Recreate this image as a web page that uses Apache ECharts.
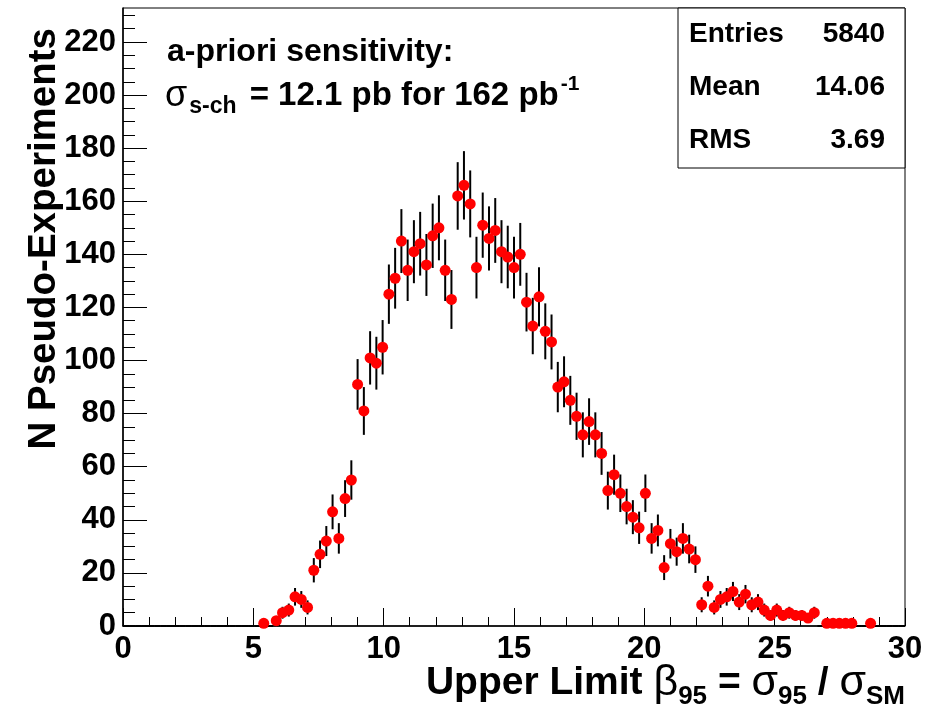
<!DOCTYPE html>
<html><head><meta charset="utf-8">
<script src="https://cdn.jsdelivr.net/npm/echarts@6/dist/echarts.min.js"></script>
<style>html,body{margin:0;padding:0;background:#fff}#c{width:934px;height:707px}</style>
</head><body><div id="c"></div>
<script>
// Histogram: 125 bins from 0 to 30
const xMin = 0, xMax = 30, nBins = 125;
const counts = [
  0,0,0,0,0,0,0,0,0,0, 0,0,0,0,0,0,0,0,0,0, 0,0,
  1,0,2,5,6,11,10,7,21,27,32,43,33,48,55,
  91,81,101,99,105,125,131,145,134,141,144,136,147,150,134,123,
  162,166,159,135,151,146,149,141,139,135,140,122,113,124,111,107,
  90,92,85,79,72,77,72,65,51,57,50,45,41,37,50,33,36,22,31,28,33,29,25,
  8,15,7,10,11,13,9,12,8,9,6,4,6,4,5,4,4,3,5,0,1,1,1,1,1,0,0,1,
  0,0,0,0,0
];
const yMax = 232.8;
const yMajorTicks = [0,20,40,60,80,100,120,140,160,180,200,220];
const yMinorTicks = [5,10,15,25,30,35,45,50,55,65,70,75,85,90,95,105,110,115,125,130,135,145,150,155,165,170,175,185,190,195,205,210,215,225,230];
const xTickInterval = 5;
const statsLabels = ['Entries', 'Mean', 'RMS'];
const statsValues = ['5840', '14.06', '3.69'];

const binW = (xMax - xMin) / nBins;
const binData = counts.map((n, i) => [xMin + (i + 0.5) * binW, n, Math.sqrt(n)]);
const pointData = binData.filter(d => d[1] > 0).map(d => [d[0], d[1]]);

const F = 'Liberation Sans, Arial, sans-serif';
const chart = echarts.init(document.getElementById('c'), null, {renderer: 'canvas'});

const statsGraphics = [];
statsGraphics.push({type: 'rect', shape: {x: 678, y: 8, width: 227, height: 160},
  style: {fill: '#fff', stroke: '#000', lineWidth: 1}, z: 100});
statsLabels.forEach((lab, i) => {
  const cy = 34 + i * 53;
  statsGraphics.push({type: 'text', x: 689, y: cy, z: 101,
    style: {text: lab, font: 'bold 28px ' + F, fill: '#000', textAlign: 'left', textVerticalAlign: 'middle'}});
  statsGraphics.push({type: 'text', x: 885, y: cy, z: 101,
    style: {text: statsValues[i], font: 'bold 28px ' + F, fill: '#000', textAlign: 'right', textVerticalAlign: 'middle'}});
});

const option = {
  animation: false,
  backgroundColor: '#fff',
  grid: {left: 123, right: 29, top: 8, bottom: 81, show: true, borderColor: '#000', borderWidth: 1, backgroundColor: 'transparent'},
  xAxis: {
    type: 'value', min: xMin, max: xMax, interval: xTickInterval,
    axisLine: {show: true, onZero: false, lineStyle: {color: '#000', width: 1.5}},
    axisTick: {show: true, inside: true, length: 18, lineStyle: {color: '#000', width: 1}},
    minorTick: {show: true, splitNumber: 5, length: 9, lineStyle: {color: '#000', width: 1}},
    axisLabel: {color: '#000', fontFamily: F, fontWeight: 'bold', fontSize: 31, margin: 8},
    splitLine: {show: false}
  },
  yAxis: [{
    type: 'value', min: 0, max: yMax, position: 'left',
    axisLine: {show: true, onZero: false, lineStyle: {color: '#000', width: 1.5}},
    axisTick: {show: true, inside: true, length: 24, customValues: yMajorTicks, lineStyle: {color: '#000', width: 1}},
    axisLabel: {color: '#000', fontFamily: F, fontWeight: 'bold', fontSize: 31, margin: 7, customValues: yMajorTicks},
    splitLine: {show: false}
  }, {
    type: 'value', min: 0, max: yMax, position: 'left',
    axisLine: {show: false},
    axisTick: {show: true, inside: true, length: 12, customValues: yMinorTicks, lineStyle: {color: '#000', width: 1}},
    axisLabel: {show: false},
    splitLine: {show: false}
  }],
  series: [{
    type: 'custom',
    data: binData,
    encode: {x: 0, y: 1},
    z: 2,
    renderItem: function (params, api) {
      const x = api.value(0), y = api.value(1), e = api.value(2);
      let p1, p2;
      if (y > 0) {
        p1 = api.coord([x, y - e]); p2 = api.coord([x, y + e]);
      } else {
        p1 = api.coord([x - binW / 2, 0]); p2 = api.coord([x + binW / 2, 0]);
      }
      return {type: 'line', shape: {x1: p1[0], y1: p1[1], x2: p2[0], y2: p2[1]},
        style: {stroke: '#000', lineWidth: 2}};
    }
  }, {
    type: 'scatter',
    data: pointData,
    symbol: 'circle',
    symbolSize: 11,
    itemStyle: {color: '#ff0000', opacity: 1},
    z: 3
  }],
  graphic: [
    // y axis title
    {type: 'text', x: 44, y: 28, rotation: Math.PI / 2, z: 50,
      style: {text: 'N Pseudo-Experiments', font: 'bold 38.5px ' + F, fill: '#000', textAlign: 'right', textVerticalAlign: 'middle'}},
    // x axis title
    {type: 'text', x: 905, y: 683, z: 50,
      style: {
        text: '{m|Upper Limit }{g|β}{s|95}{m| = }{g|σ}{s|95}{m| / }{g|σ}{s|SM}',
        textAlign: 'right', textVerticalAlign: 'middle', fill: '#000',
        rich: {
          m: {fontFamily: F, fontWeight: 'bold', fontSize: 39, color: '#000'},
          g: {fontFamily: F, fontWeight: 'normal', fontSize: 43, color: '#000'},
          s: {fontFamily: F, fontWeight: 'bold', fontSize: 26, color: '#000', padding: [28, 0, 0, 0]}
        }
      }},
    // annotation
    {type: 'text', x: 167, y: 52, z: 50,
      style: {text: 'a-priori sensitivity:', font: 'bold 32px ' + F, fill: '#000', textAlign: 'left', textVerticalAlign: 'middle'}},
    {type: 'text', x: 165, y: 96, z: 50,
      style: {
        text: '{g|σ}{s|s-ch}{m| = 12.1 pb for 162 pb}{u|-1}',
        textAlign: 'left', textVerticalAlign: 'middle', fill: '#000',
        rich: {
          m: {fontFamily: F, fontWeight: 'bold', fontSize: 33, color: '#000'},
          g: {fontFamily: F, fontWeight: 'normal', fontSize: 36, color: '#000'},
          s: {fontFamily: F, fontWeight: 'bold', fontSize: 23, color: '#000', padding: [22, 4, 0, 2]},
          u: {fontFamily: F, fontWeight: 'bold', fontSize: 21, color: '#000', padding: [0, 0, 24, 2]}
        }
      }}
  ].concat(statsGraphics)
};
chart.setOption(option);
</script>
</body></html>
